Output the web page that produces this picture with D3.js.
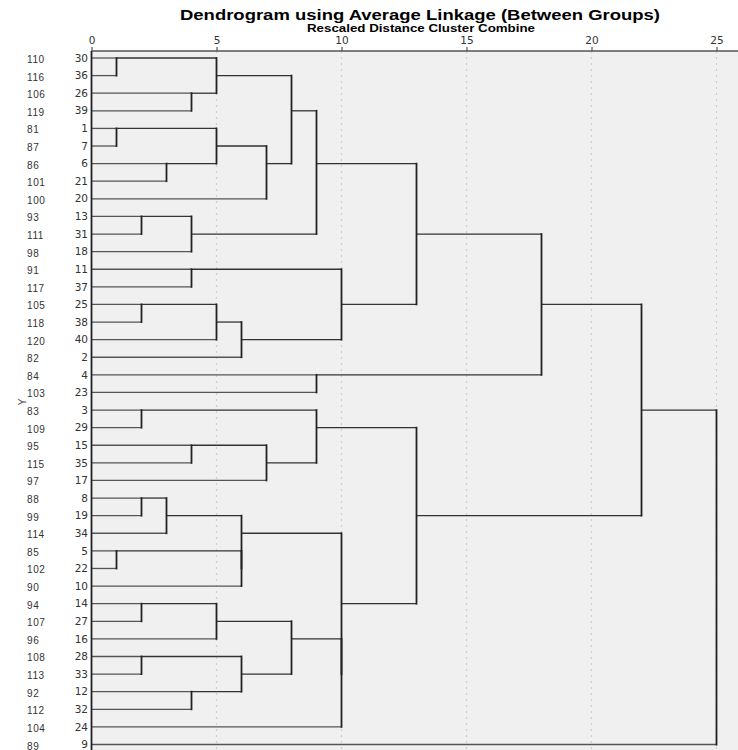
<!DOCTYPE html>
<html lang="en">
<head>
    <meta charset="UTF-8">
    <title>Dendrogram using Average Linkage</title>
    <script src="https://d3js.org/d3.v7.min.js"></script>
    <style>
        body { margin: 0; background: #fff; font-family: "Liberation Sans", Arial, sans-serif; }
    </style>
</head>
<body>
    <div id="chart"></div>
    <script>
        // Leaves, top to bottom: cluster numbers and the Y case labels
        const clusterIds = ["30","36","26","39","1","7","6","21","20","13","31","18","11","37","25","38","40","2","4","23",
                            "3","29","15","35","17","8","19","34","5","22","10","14","27","16","28","33","12","32","24","9"];
        const caseLabels = ["110","116","106","119","81","87","86","101","100","93","111","98","91","117","105","118","120","82","84","103",
                            "83","109","95","115","97","88","99","114","85","102","90","94","107","96","108","113","92","112","104","89"];

        // Merges in order: [childA, childB, rescaled distance]; leaves are 0..39, merge k becomes node 40 + k
        const merges = [
            [0, 1, 1], [2, 3, 4], [40, 41, 5], [4, 5, 1], [6, 7, 3], [43, 44, 5], [45, 8, 7], [42, 46, 8],
            [9, 10, 2], [48, 11, 4], [47, 49, 9], [12, 13, 4], [14, 15, 2], [52, 16, 5], [53, 17, 6], [51, 54, 10],
            [50, 55, 13], [18, 19, 9], [56, 57, 18], [20, 21, 2], [22, 23, 4], [60, 24, 7], [59, 61, 9],
            [25, 26, 2], [63, 27, 3], [28, 29, 1], [65, 30, 6], [64, 66, 6], [31, 32, 2], [68, 33, 5],
            [34, 35, 2], [36, 37, 4], [70, 71, 6], [69, 72, 8], [73, 38, 10], [67, 74, 10], [62, 75, 13],
            [58, 76, 22], [77, 39, 25]
        ];
        const distTicks = [0, 5, 10, 15, 20, 25];

        const W = 738, H = 750;
        const plot = {left: 91.5, right: 738, top: 51, bottom: 750};

        const svg = d3.select("#chart").append("svg")
            .attr("width", W).attr("height", H);

        const x = d3.scaleLinear().domain([0, 25]).range([plot.left, 716.5]);
        const y = d3.scalePoint().domain(d3.range(clusterIds.length)).range([58, 744.5]);

        // plot background
        svg.append("rect")
            .attr("x", plot.left).attr("y", plot.top)
            .attr("width", plot.right - plot.left).attr("height", plot.bottom - plot.top)
            .attr("fill", "#f0f0f0");

        // dotted grid
        svg.append("g").selectAll("line")
            .data(distTicks.slice(1))
            .join("line")
            .attr("x1", d => x(d)).attr("x2", d => x(d))
            .attr("y1", plot.top).attr("y2", plot.bottom)
            .attr("stroke", "#cfcfcf").attr("stroke-width", 1.2)
            .attr("stroke-dasharray", "2,4");

        // node positions: row index and height
        const nodes = clusterIds.map((d, i) => ({row: i, h: 0}));
        const hLines = [], vLines = [];
        merges.forEach(([a, b, h]) => {
            const na = nodes[a], nb = nodes[b];
            hLines.push({row: na.row, h0: na.h, h1: h});
            hLines.push({row: nb.row, h0: nb.h, h1: h});
            vLines.push({h, r0: Math.min(na.row, nb.row), r1: Math.max(na.row, nb.row)});
            nodes.push({row: Math.floor((na.row + nb.row) / 2), h});
        });

        const tree = svg.append("g");
        tree.selectAll(".hl")
            .data(hLines)
            .join("line")
            .attr("class", "hl")
            .attr("x1", d => x(d.h0)).attr("x2", d => x(d.h1))
            .attr("y1", d => y(d.row)).attr("y2", d => y(d.row))
            .attr("stroke", d => d.h0 === 0 ? "#555" : "#333").attr("stroke-width", 1.3);
        tree.selectAll(".vl")
            .data(vLines)
            .join("line")
            .attr("class", "vl")
            .attr("x1", d => x(d.h)).attr("x2", d => x(d.h))
            .attr("y1", d => y(d.r0)).attr("y2", d => y(d.r1))
            .attr("stroke", "#222").attr("stroke-width", 1.8)
            .attr("stroke-linecap", "square");

        // axes lines
        svg.append("line")
            .attr("x1", plot.left).attr("x2", plot.right)
            .attr("y1", plot.top).attr("y2", plot.top)
            .attr("stroke", "#555").attr("stroke-width", 1.5);
        svg.append("line")
            .attr("x1", plot.left).attr("x2", plot.left)
            .attr("y1", plot.top).attr("y2", plot.bottom)
            .attr("stroke", "#222").attr("stroke-width", 1.8);

        const axis = svg.append("g")
            .attr("transform", `translate(0,${plot.top})`)
            .call(d3.axisTop(x).tickValues(distTicks).tickSize(4).tickPadding(3));
        axis.select(".domain").remove();
        axis.selectAll(".tick line").attr("stroke", "#555").attr("stroke-width", 1.2);
        axis.selectAll(".tick text")
            .attr("fill", "#333").style("font-size", "10.5px")
            .style("font-family", "'DejaVu Sans', sans-serif");

        // leaf labels
        svg.append("g").selectAll("text")
            .data(clusterIds)
            .join("text")
            .attr("x", 88).attr("y", (d, i) => y(i))
            .attr("dy", "0.35em")
            .attr("text-anchor", "end")
            .attr("fill", "#333")
            .style("font-size", "10.5px")
            .style("font-family", "'DejaVu Sans', sans-serif")
            .text(d => d);
        svg.append("g").selectAll("text")
            .data(caseLabels)
            .join("text")
            .attr("x", 27).attr("y", (d, i) => y(i))
            .attr("dy", "0.5em")
            .attr("fill", "#333")
            .style("font-size", "10px")
            .style("letter-spacing", "0.6px")
            .text(d => d);

        svg.append("text")
            .attr("transform", "translate(26,402) rotate(-90)")
            .attr("text-anchor", "middle")
            .attr("fill", "#444")
            .style("font-size", "10px")
            .text("Y");

        // titles
        svg.append("text")
            .attr("x", 420).attr("y", 20)
            .attr("text-anchor", "middle")
            .attr("textLength", 480).attr("lengthAdjust", "spacingAndGlyphs")
            .style("font-size", "15px").style("font-weight", "bold")
            .text("Dendrogram using Average Linkage (Between Groups)");
        svg.append("text")
            .attr("x", 421).attr("y", 32)
            .attr("text-anchor", "middle")
            .attr("textLength", 228).attr("lengthAdjust", "spacingAndGlyphs")
            .style("font-size", "10px").style("font-weight", "bold")
            .text("Rescaled Distance Cluster Combine");
    </script>
</body>
</html>
